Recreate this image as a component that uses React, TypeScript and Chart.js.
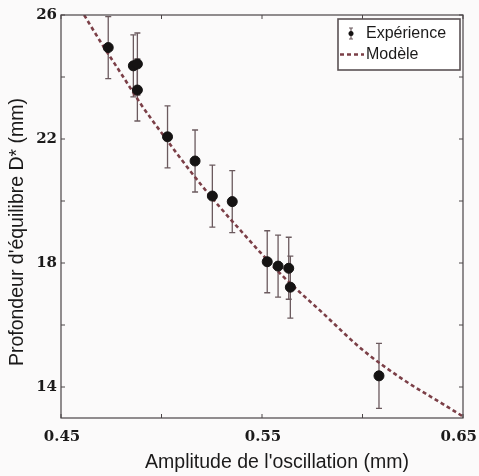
import React, { useEffect, useRef } from 'react';
import { Chart, registerables } from 'chart.js';

Chart.register(...registerables);

// Experimental points: amplitude (mm) and equilibrium depth D* (mm)
const amplitudes = [0.4735, 0.486, 0.488, 0.488, 0.503, 0.5167, 0.5253, 0.5352, 0.5526, 0.558, 0.5633, 0.5641, 0.6082];
const depths = [24.95, 24.36, 24.42, 23.58, 22.07, 21.29, 20.16, 19.98, 18.04, 17.9, 17.83, 17.22, 14.36];
const depthErrors = [1.0, 1.0, 1.0, 1.0, 1.0, 1.0, 1.0, 1.0, 1.0, 1.0, 1.0, 1.0, 1.05];

// Model curve
const modelAmplitudes = [0.4615, 0.47, 0.48, 0.49, 0.5, 0.52, 0.54, 0.56, 0.58, 0.6, 0.62, 0.64, 0.65];
const modelDepths = [26.0, 25.1, 24.1, 23.1, 22.2, 20.5, 19.0, 17.6, 16.4, 15.2, 14.25, 13.45, 13.05];

// Axes
const xTicks = [0.45, 0.5, 0.55, 0.6, 0.65];
const xTickLabels = ['0.45', '', '0.55', '', '0.65'];
const yTicks = [14, 16, 18, 20, 22, 24, 26];
const yTickLabels = ['14', '', '18', '', '22', '', '26'];
const xMin = 0.45;
const xMax = 0.65;
const yMin = 13;
const yMax = 26;

const xTitle = "Amplitude de l'oscillation (mm)";
const yTitle = "Profondeur d'équilibre D* (mm)";
const seriesNames = ['Expérience', 'Modèle'];

const BG = '#fbfafa';
const FRAME = '#4a4446';
const POINT = '#151313';
const ERR = '#6b5a5e';
const MODEL = '#7b3f47';
const TEXT = '#1b1a1a';
const TICK_FONT = 'bold 15px "DejaVu Serif", serif';

const decorPlugin = {
  id: 'decor',
  beforeDraw(chart: any) {
    const { ctx, width, height } = chart;
    ctx.save();
    ctx.fillStyle = BG;
    ctx.fillRect(0, 0, width, height);
    ctx.restore();
  },
  beforeDatasetsDraw(chart: any) {
    const { ctx } = chart;
    const xs = chart.scales.x;
    const ys = chart.scales.y;
    ctx.save();
    ctx.strokeStyle = ERR;
    ctx.lineWidth = 1.3;
    for (let i = 0; i < amplitudes.length; i++) {
      const px = xs.getPixelForValue(amplitudes[i]);
      const yTop = ys.getPixelForValue(depths[i] + depthErrors[i]);
      const yBot = ys.getPixelForValue(depths[i] - depthErrors[i]);
      ctx.beginPath();
      ctx.moveTo(px, yTop);
      ctx.lineTo(px, yBot);
      ctx.moveTo(px - 3, yTop);
      ctx.lineTo(px + 3, yTop);
      ctx.moveTo(px - 3, yBot);
      ctx.lineTo(px + 3, yBot);
      ctx.stroke();
    }
    ctx.restore();
  },
  afterDraw(chart: any) {
    const { ctx, chartArea, width } = chart;
    const { left, right, top, bottom } = chartArea;
    const xs = chart.scales.x;
    const ys = chart.scales.y;
    ctx.save();
    // frame
    ctx.strokeStyle = FRAME;
    ctx.lineWidth = 1.2;
    ctx.strokeRect(left, top, right - left, bottom - top);
    // inward ticks
    ctx.lineWidth = 1;
    const tl = 4;
    ctx.beginPath();
    xTicks.forEach((v) => {
      const px = xs.getPixelForValue(v);
      ctx.moveTo(px, bottom);
      ctx.lineTo(px, bottom - tl);
      ctx.moveTo(px, top);
      ctx.lineTo(px, top + tl);
    });
    yTicks.forEach((v) => {
      const py = ys.getPixelForValue(v);
      ctx.moveTo(left, py);
      ctx.lineTo(left + tl, py);
      ctx.moveTo(right, py);
      ctx.lineTo(right - tl, py);
    });
    ctx.stroke();

    // x tick labels, kept inside the canvas
    ctx.fillStyle = TEXT;
    ctx.font = TICK_FONT;
    ctx.textAlign = 'center';
    ctx.textBaseline = 'middle';
    xTicks.forEach((v, i) => {
      const label = xTickLabels[i];
      if (!label) return;
      const w = ctx.measureText(label).width;
      const px = Math.min(xs.getPixelForValue(v) + 1, width - w / 2 - 2);
      ctx.fillText(label, px, bottom + 19);
    });

    // axis titles
    ctx.font = '19.5px "Liberation Sans", Arial, sans-serif';
    ctx.fillText(xTitle, 277, 463);
    ctx.save();
    ctx.translate(18, 232);
    ctx.rotate(-Math.PI / 2);
    ctx.fillText(yTitle, 0, 0);
    ctx.restore();

    // legend
    const lx = 338, ly = 19, lw = 122, lh = 51;
    ctx.fillStyle = '#ffffff';
    ctx.fillRect(lx, ly, lw, lh);
    ctx.strokeStyle = '#5a5254';
    ctx.lineWidth = 1.6;
    ctx.strokeRect(lx, ly, lw, lh);
    // errorbar symbol
    ctx.strokeStyle = ERR;
    ctx.lineWidth = 1.2;
    ctx.beginPath();
    ctx.moveTo(351, 28);
    ctx.lineTo(351, 39);
    ctx.moveTo(349, 28);
    ctx.lineTo(353, 28);
    ctx.moveTo(349, 39);
    ctx.lineTo(353, 39);
    ctx.stroke();
    ctx.fillStyle = POINT;
    ctx.beginPath();
    ctx.arc(351, 33.5, 2.5, 0, Math.PI * 2);
    ctx.fill();
    // dashed symbol
    ctx.strokeStyle = MODEL;
    ctx.lineWidth = 2.5;
    ctx.setLineDash([4, 3]);
    ctx.beginPath();
    ctx.moveTo(340, 54.5);
    ctx.lineTo(364, 54.5);
    ctx.stroke();
    ctx.setLineDash([]);
    ctx.fillStyle = TEXT;
    ctx.font = '16px "Liberation Sans", Arial, sans-serif';
    ctx.textAlign = 'left';
    ctx.fillText(seriesNames[0], 366, 34);
    ctx.fillText(seriesNames[1], 366, 55);
    ctx.restore();
  },
};

export default function App() {
  const canvasRef = useRef<HTMLCanvasElement | null>(null);

  useEffect(() => {
    const canvas = canvasRef.current;
    if (!canvas) return;
    const tickFont = { family: '"DejaVu Serif", serif', size: 15, weight: 'bold' as const };
    const chart = new Chart(canvas, {
      type: 'scatter',
      data: {
        datasets: [
          {
            label: seriesNames[0],
            data: amplitudes.map((a, i) => ({ x: a, y: depths[i] })),
            backgroundColor: POINT,
            borderColor: POINT,
            pointRadius: 5,
            pointHoverRadius: 5,
            order: 0,
          },
          {
            label: seriesNames[1],
            data: modelAmplitudes.map((a, i) => ({ x: a, y: modelDepths[i] })),
            showLine: true,
            borderColor: MODEL,
            borderWidth: 2.6,
            borderDash: [4, 3],
            pointRadius: 0,
            cubicInterpolationMode: 'monotone',
            order: 1,
          } as any,
        ],
      },
      options: {
        animation: false,
        responsive: false,
        maintainAspectRatio: false,
        events: [],
        layout: { padding: { top: 15, right: 16, left: 0, bottom: 0 } },
        plugins: {
          legend: { display: false },
          tooltip: { enabled: false },
        },
        scales: {
          x: {
            type: 'linear',
            min: xMin,
            max: xMax,
            grid: { display: false, drawTicks: false },
            border: { display: false },
            afterBuildTicks: (scale: any) => {
              scale.ticks = xTicks.map((v) => ({ value: v }));
            },
            afterFit: (scale: any) => {
              scale.height = 58;
            },
            ticks: { display: false },
          },
          y: {
            type: 'linear',
            min: yMin,
            max: yMax,
            grid: { display: false, drawTicks: false },
            border: { display: false },
            afterBuildTicks: (scale: any) => {
              scale.ticks = yTicks.map((v) => ({ value: v }));
            },
            afterFit: (scale: any) => {
              scale.width = 61;
            },
            ticks: {
              autoSkip: false,
              padding: 4,
              color: TEXT,
              font: tickFont,
              callback: (_v: any, i: number) => yTickLabels[i],
            },
          },
        },
      },
      plugins: [decorPlugin],
    });
    return () => chart.destroy();
  }, []);

  return (
    <div style={{ position: 'fixed', left: 0, top: 0, width: 479, height: 476, background: BG }}>
      <canvas ref={canvasRef} width={479} height={476} style={{ display: 'block' }} />
    </div>
  );
}
